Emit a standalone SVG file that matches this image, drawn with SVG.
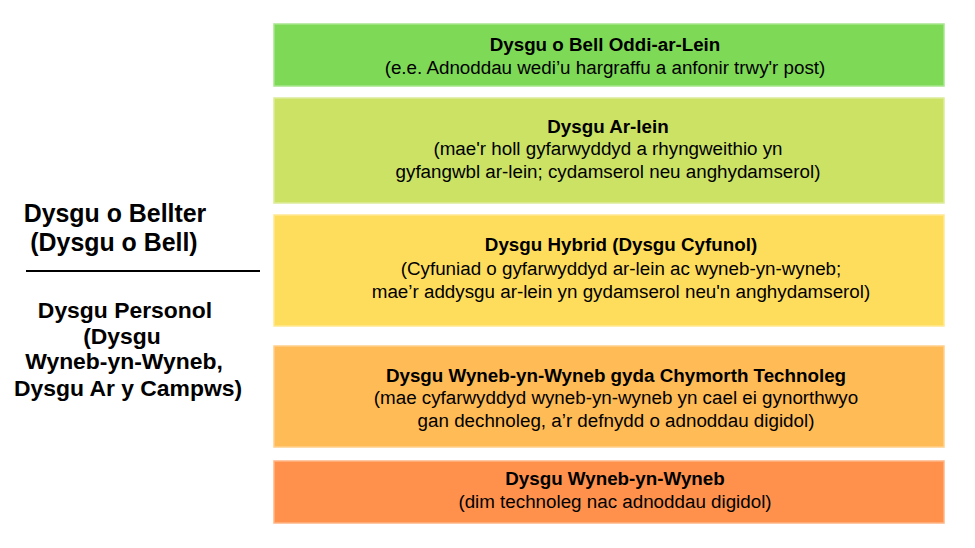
<svg xmlns="http://www.w3.org/2000/svg" width="975" height="548" viewBox="0 0 975 548">
<style>
.box{stroke-width:1.5}
.t{font-family:"Liberation Sans",Arial,sans-serif;font-size:18.8px;fill:#000;text-anchor:middle}
.b{font-weight:bold}
.l{font-family:"Liberation Sans",Arial,sans-serif;font-size:22.9px;font-weight:bold;fill:#000;text-anchor:middle}
.lg{font-size:24.9px}
</style>
<rect width="975" height="548" fill="#fff"/>
<g id="left">
<text class="l lg" x="115" y="222">Dysgu o Bellter</text>
<text class="l lg" x="114" y="251">(Dysgu o Bell)</text>
<text class="l" x="125" y="318">Dysgu Personol</text>
<text class="l" x="122" y="344">(Dysgu</text>
<text class="l" x="124" y="369">Wyneb-yn-Wyneb,</text>
<text class="l" x="128" y="396">Dysgu Ar y Campws)</text>
</g>
<g id="connectors">
<line x1="26" y1="271" x2="260" y2="271" stroke="#000" stroke-width="2"/>
</g>
<g id="box1">
<rect class="box" x="274" y="24" width="670" height="62" fill="#7ed957" stroke="#a6e68b"/>
<text class="t b" x="605" y="51">Dysgu o Bell Oddi-ar-Lein</text>
<text class="t" x="605" y="74">(e.e. Adnoddau wedi’u hargraffu a anfonir trwy'r post)</text>
</g>
<g id="box2">
<rect class="box" x="274" y="98" width="670" height="105" fill="#cbe265" stroke="#dcec98"/>
<text class="t b" x="608" y="133">Dysgu Ar-lein</text>
<text class="t" x="608" y="155">(mae'r holl gyfarwyddyd a rhyngweithio yn</text>
<text class="t" x="608" y="178">gyfangwbl ar-lein; cydamserol neu anghydamserol)</text>
</g>
<g id="box3">
<rect class="box" x="274" y="215" width="670" height="111" fill="#ffdd5c" stroke="#ffe891"/>
<text class="t b" x="621" y="251">Dysgu Hybrid (Dysgu Cyfunol)</text>
<text class="t" x="621" y="275">(Cyfuniad o gyfarwyddyd ar-lein ac wyneb-yn-wyneb;</text>
<text class="t" x="621" y="298">mae’r addysgu ar-lein yn gydamserol neu'n anghydamserol)</text>
</g>
<g id="box4">
<rect class="box" x="274" y="346" width="670" height="101" fill="#ffbb55" stroke="#ffd08c"/>
<text class="t b" x="616" y="382">Dysgu Wyneb-yn-Wyneb gyda Chymorth Technoleg</text>
<text class="t" x="616" y="404">(mae cyfarwyddyd wyneb-yn-wyneb yn cael ei gynorthwyo</text>
<text class="t" x="616" y="427">gan dechnoleg, a’r defnydd o adnoddau digidol)</text>
</g>
<g id="box5">
<rect class="box" x="274" y="461" width="670" height="62" fill="#ff914d" stroke="#ffb585"/>
<text class="t b" x="615" y="485">Dysgu Wyneb-yn-Wyneb</text>
<text class="t" x="615" y="508">(dim technoleg nac adnoddau digidol)</text>
</g>
</svg>
